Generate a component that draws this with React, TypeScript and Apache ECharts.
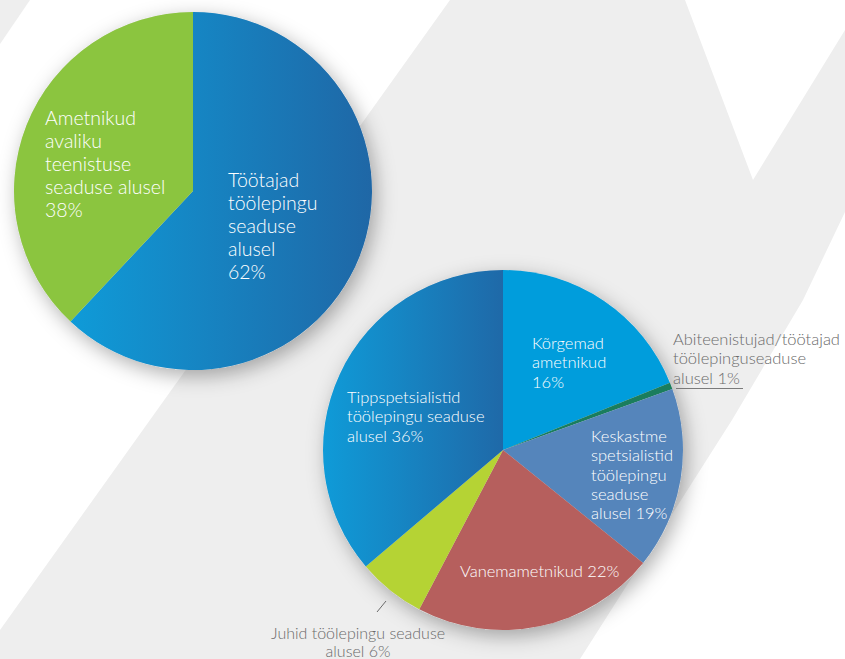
import React, { useEffect, useRef } from "react";
import * as echarts from "echarts";

// ---- data ----
const topNames = [
  "Töötajad töölepingu seaduse alusel",
  "Ametnikud avaliku teenistuse seaduse alusel",
];
const topValues = [62, 38];
const topLabels = [
  "Töötajad\ntöölepingu\nseaduse\nalusel\n62%",
  "Ametnikud\navaliku\nteenistuse\nseaduse alusel\n38%",
];

const bottomNames = [
  "Kõrgemad ametnikud",
  "Abiteenistujad/töötajad töölepinguseaduse alusel",
  "Keskastme spetsialistid töölepingu seaduse alusel",
  "Vanemametnikud",
  "Juhid töölepingu seaduse alusel",
  "Tippspetsialistid töölepingu seaduse alusel",
];
// slice shares as drawn in the picture
const bottomValues = [18.9, 0.6, 16.3, 21.9, 6.1, 36.2];
const bottomLabels = [
  "Kõrgemad\nametnikud\n16%",
  "Abiteenistujad/töötajad\ntöölepinguseaduse\nalusel 1%",
  "Keskastme\nspetsialistid\ntöölepingu\nseaduse\nalusel 19%",
  "Vanemametnikud 22%",
  "Juhid töölepingu seaduse\nalusel 6%",
  "Tippspetsialistid\ntöölepingu seaduse\nalusel 36%",
];

// ---- styles / layout ----
const FONT = "Lato, 'Noto Sans', sans-serif";
const WHITE = "#ffffff";
const GREYTXT = "#6a6a6a";

const grad = (a: string, b: string) =>
  new echarts.graphic.LinearGradient(0, 0, 1, 0, [
    { offset: 0, color: a },
    { offset: 1, color: b },
  ]);

const topColors = [grad("#0f9bd8", "#1f67a6"), "#8bc53f"];
const bottomColors = [
  "#009ddc",
  "#1a7d5d",
  "#5585bb",
  "#b65f5d",
  "#b5d334",
  grad("#0f9bd8", "#1f69a8"),
];
const bottomLabelColors = [WHITE, GREYTXT, WHITE, WHITE, GREYTXT, WHITE];
const bottomLineHeights = [19.3, 19.3, 19.3, 19.3, 18, 19.3];
const bottomFontSizes = [16.5, 16.5, 16.5, 16.5, 16, 16.5];

const topLabelPos: [number, number, string][] = [
  [228, 167.5, "left"],
  [45, 105.5, "left"],
];
const bottomLabelPos: [number, number, string][] = [
  [532, 333.5, "left"],
  [673, 329.5, "left"],
  [591, 426.5, "left"],
  [460, 561.5, "left"],
  [358, 623, "center"],
  [347, 387.5, "left"],
];

const TOP_CENTER = [193, 191];
const TOP_R = 179;
const BOT_CENTER = [503, 450];
const BOT_R = 180;

const BG = "#eeeeee";

export default function App() {
  const ref = useRef<HTMLDivElement>(null);

  useEffect(() => {
    if (!ref.current) return;
    const chart = echarts.init(ref.current, undefined, { renderer: "svg" });

    const shadowSeries = (center: number[], r: number) => ({
      type: "pie",
      silent: true,
      center,
      radius: r,
      z: 1,
      label: { show: false },
      labelLine: { show: false },
      itemStyle: {
        color: "#dddddd",
        shadowBlur: 20,
        shadowOffsetX: 4,
        shadowOffsetY: 6,
        shadowColor: "rgba(0,0,0,0.32)",
      },
      data: [{ value: 1, name: "" }],
    });

    const option: any = {
      animation: false,
      backgroundColor: "#ffffff",
      graphic: [
        {
          type: "polygon",
          z: 0,
          silent: true,
          shape: {
            points: [
              [0, 0],
              [30, 0],
              [0, 44],
            ],
          },
          style: { fill: BG },
        },
        {
          type: "polygon",
          z: 0,
          silent: true,
          shape: {
            points: [
              [450, 0],
              [685, 0],
              [753, 180],
              [845, 30],
              [845, 212],
              [803, 300],
              [732, 420],
              [580, 659],
              [0, 659],
              [0, 630],
            ],
          },
          style: { fill: BG },
        },
        {
          type: "line",
          z: 100,
          silent: true,
          shape: { x1: 676, y1: 388.5, x2: 743, y2: 388.5 },
          style: { stroke: "#7a7a7a", lineWidth: 1 },
        },
        {
          type: "line",
          z: 100,
          silent: true,
          shape: { x1: 377, y1: 612, x2: 386, y2: 601 },
          style: { stroke: "#6a6a6a", lineWidth: 1 },
        },
      ],
      series: [
        shadowSeries(TOP_CENTER, TOP_R),
        shadowSeries(BOT_CENTER, BOT_R),
        {
          type: "pie",
          z: 2,
          center: TOP_CENTER,
          radius: TOP_R,
          startAngle: 90,
          clockwise: true,
          avoidLabelOverlap: false,
          labelLine: { show: false },
          label: {
            show: true,
            position: "inside",
            rotate: 0,
            color: WHITE,
            fontFamily: FONT,
            fontWeight: 300,
            fontSize: 19.5,
            lineHeight: 23,
            formatter: (p: any) => topLabels[p.dataIndex],
          },
          labelLayout: (p: any) => {
            const q = topLabelPos[p.dataIndex];
            return { x: q[0], y: q[1], align: q[2], verticalAlign: "top" };
          },
          itemStyle: { borderWidth: 0 },
          emphasis: { disabled: true },
          data: topValues.map((v, i) => ({
            value: v,
            name: topNames[i],
            itemStyle: { color: topColors[i] },
          })),
        },
        {
          type: "pie",
          z: 2,
          center: BOT_CENTER,
          radius: BOT_R,
          startAngle: 90,
          clockwise: true,
          avoidLabelOverlap: false,
          labelLine: { show: false },
          label: {
            show: true,
            position: "inside",
            rotate: 0,
            fontFamily: FONT,
            fontWeight: 300,
            fontSize: 16.5,
            lineHeight: 19.3,
            formatter: (p: any) => bottomLabels[p.dataIndex],
          },
          labelLayout: (p: any) => {
            const q = bottomLabelPos[p.dataIndex];
            return { x: q[0], y: q[1], align: q[2], verticalAlign: "top" };
          },
          itemStyle: { borderWidth: 0 },
          emphasis: { disabled: true },
          data: bottomValues.map((v, i) => ({
            value: v,
            name: bottomNames[i],
            itemStyle: { color: bottomColors[i] },
            label: {
              color: bottomLabelColors[i],
              lineHeight: bottomLineHeights[i],
              fontSize: bottomFontSizes[i],
            },
          })),
        },
      ],
    };

    chart.setOption(option);
    return () => chart.dispose();
  }, []);

  return (
    <div
      ref={ref}
      style={{ position: "fixed", left: 0, top: 0, width: 845, height: 659 }}
    />
  );
}
